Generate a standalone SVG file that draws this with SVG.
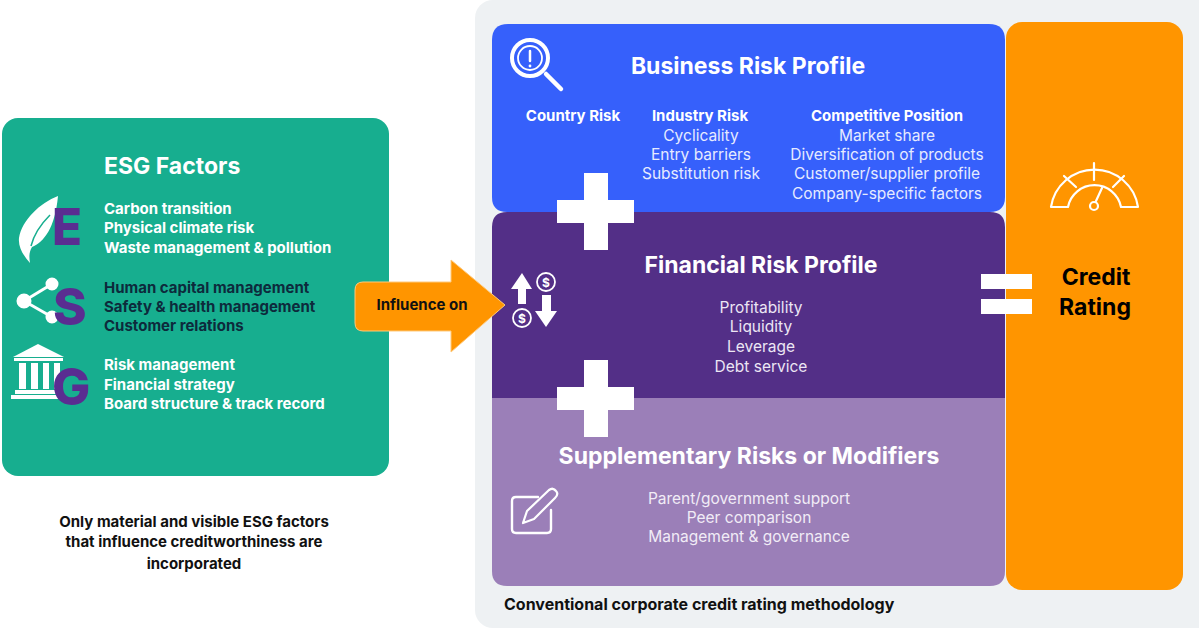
<svg xmlns="http://www.w3.org/2000/svg" width="1199" height="629" viewBox="0 0 1199 629">
<style>
text{font-family:Inter,"Liberation Sans",sans-serif}
.w{fill:#fff}.ws{fill:#f0eaf6}
.h{font-size:23px;font-weight:700;fill:#fff;text-anchor:middle}
.b{font-size:15px;font-weight:700}
.r{font-size:15.5px;font-weight:400;text-anchor:middle}
.c{text-anchor:middle}
.l{font-size:51px;font-weight:800;fill:#5a2d91}
.ic{fill:none;stroke:#fff;stroke-linecap:round;stroke-linejoin:round}
</style>
<rect width="1199" height="629" fill="#fff"/>
<g id="panel"><rect x="475" y="0" width="740" height="628" rx="18" fill="#eef1f3"/>
<text x="504" y="610" font-size="16" font-weight="700" fill="#111" style="font-size:16px;font-weight:700">Conventional corporate credit rating methodology</text></g>

<g id="esg">
<rect x="2" y="118" width="387" height="358" rx="16" fill="#17ae8f"/>
<text x="104" y="174" font-size="23" font-weight="700" fill="#fff" style="font-size:23px">ESG Factors</text>
<path d="M58 196C40 203 22 220 19 238C18 248 24 256 30 263C29 257 29 252 32 247C44 242 55 228 58 196Z" fill="#fff"/>
<path d="M31 246C34 234 41 224 50 215" fill="none" stroke="#17ae8f" stroke-width="1.5"/>
<text class="l" x="52" y="245" style="font-size:51px" textLength="30" lengthAdjust="spacingAndGlyphs">E</text>
<g fill="#fff" stroke="#fff" stroke-width="3"><line x1="24" y1="301" x2="52" y2="284"/><line x1="24" y1="301" x2="52" y2="317"/><circle cx="24" cy="301" r="6"/><circle cx="52" cy="284" r="5"/><circle cx="52" cy="317" r="5"/></g>
<text class="l" x="53" y="325" style="font-size:51px">S</text>
<g fill="#fff"><path d="M38 344L64 357H13Z"/><rect x="14" y="358" width="49" height="3"/><rect x="19" y="363" width="7" height="26"/><rect x="31" y="363" width="7" height="26"/><rect x="43" y="363" width="6" height="26"/><rect x="54" y="363" width="6" height="26"/><rect x="15" y="390" width="47" height="4"/><rect x="11" y="395" width="50" height="4"/></g>
<text class="l" x="52" y="405" style="font-size:51px">G</text>
<g class="b" fill="#fff"><text x="104" y="214">Carbon transition</text><text x="104" y="233">Physical climate risk</text><text x="104" y="253">Waste management &amp; pollution</text></g>
<g class="b" fill="#0d2a3c"><text x="104" y="293">Human capital management</text><text x="104" y="312">Safety &amp; health management</text><text x="104" y="331">Customer relations</text></g>
<g class="b" fill="#fff"><text x="104" y="370">Risk management</text><text x="104" y="390">Financial strategy</text><text x="104" y="409">Board structure &amp; track record</text></g>
</g>

<g id="orange-rating">
<rect x="1006" y="22" width="177" height="568" rx="16" fill="#ff9500"/>
<g class="ic" stroke-width="2.2" transform="translate(0,0)"><path d="M1051 207A44 44 0 0 1 1138 207H1121A27 27 0 0 0 1068 207Z"/><line x1="1094" y1="163" x2="1094" y2="180"/><line x1="1064" y1="176" x2="1076" y2="187"/><line x1="1124" y1="176" x2="1113" y2="187"/><circle cx="1094" cy="206" r="4"/><line x1="1096" y1="201" x2="1102" y2="188"/></g>
<text class="c" x="1096" y="285" fill="#000" style="font-size:23px;font-weight:700">Credit</text>
<text class="c" x="1095" y="315" fill="#000" style="font-size:23px;font-weight:700">Rating</text>
</g>

<g id="business">
<path d="M508 24H989Q1005 24 1005 40V197Q1005 212 990 212H507Q492 212 492 197V40Q492 24 508 24Z" fill="#3660fb"/>
<text class="h" x="748" y="74">Business Risk Profile</text>
<circle cx="530" cy="58" r="18" class="ic" stroke-width="4"/><line x1="546" y1="74" x2="561" y2="89" class="ic" stroke-width="4.5"/>
<circle cx="530" cy="58" r="12" class="ic" stroke-width="1.8"/><line x1="530" y1="51" x2="530" y2="61" class="ic" stroke-width="2.5"/><circle cx="530" cy="66" r="1.4" fill="#fff"/>
<text class="c b w" x="573" y="121">Country Risk</text><text class="c b w" x="700" y="121">Industry Risk</text><text class="c b w" x="887" y="121">Competitive Position</text>
<g fill="#e6ebff"><text class="r" x="701" y="141">Cyclicality</text><text class="r" x="701" y="160">Entry barriers</text><text class="r" x="701" y="179">Substitution risk</text>
<text class="r" x="887" y="141">Market share</text><text class="r" x="887" y="160">Diversification of products</text><text class="r" x="887" y="179">Customer/supplier profile</text><text class="r" x="887" y="199">Company-specific factors</text></g>
</g>

<g id="financial">
<path d="M507 212H990Q1005 212 1005 227V398H492V227Q492 212 507 212Z" fill="#532f87"/>
<text class="h" x="761" y="273">Financial Risk Profile</text>
<g fill="#ece6f4"><text class="r" x="761" y="313">Profitability</text><text class="r" x="761" y="332">Liquidity</text><text class="r" x="761" y="352">Leverage</text><text class="r" x="761" y="372">Debt service</text></g>
<path d="M522 273L532 289H526V304H518V289H511Z" fill="#fff"/><path d="M546 327L535 311H542V295H551V311H557Z" fill="#fff"/>
<g class="ic" stroke-width="1.8"><circle cx="546" cy="282" r="9"/><circle cx="522" cy="318" r="9"/></g>
<text class="c" x="546" y="287" fill="#fff" style="font-size:12px;font-weight:700">$</text><text class="c" x="522" y="323" fill="#fff" style="font-size:12px;font-weight:700">$</text>
</g>

<g id="supplementary">
<path d="M492 398H1005V571Q1005 586 990 586H507Q492 586 492 571Z" fill="#9b7fb8"/>
<text class="h" x="749" y="464">Supplementary Risks or Modifiers</text>
<g fill="#f1ecf6"><text class="r" x="749" y="504">Parent/government support</text><text class="r" x="749" y="523">Peer comparison</text><text class="r" x="749" y="542">Management &amp; governance</text></g>
<path d="M538 497H516Q512 497 512 501V529Q512 533 516 533H547Q551 533 551 529V510" class="ic" stroke-width="2.4"/>
<path d="M523 523L527 511L549 490Q553 487 556 491Q559 494 555 498L534 519Z" class="ic" stroke-width="2.2"/>
</g>

<g id="connectors">
<path d="M363 282H451V260L505 305L451 352V331H363Q355 331 355 323V290Q355 282 363 282Z" fill="#ff9500" stroke="#ffc97a" stroke-width="1"/>
<text class="c" x="422" y="310" fill="#111" style="font-size:15px;font-weight:700">Influence on</text>
<path d="M584 173H608V200H634V223H608V250H584V223H557V200H584Z" fill="#fff"/>
<path d="M584 360H608V387H634V410H608V437H584V410H557V387H584Z" fill="#fff"/>
<rect x="981" y="274" width="51" height="15" fill="#fff"/><rect x="981" y="299" width="51" height="15" fill="#fff"/>
</g>

<g id="note" fill="#111"><text class="c b" x="194" y="527">Only material and visible ESG factors</text><text class="c b" x="194" y="547">that influence creditworthiness are</text><text class="c b" x="194" y="569">incorporated</text></g>
</svg>
